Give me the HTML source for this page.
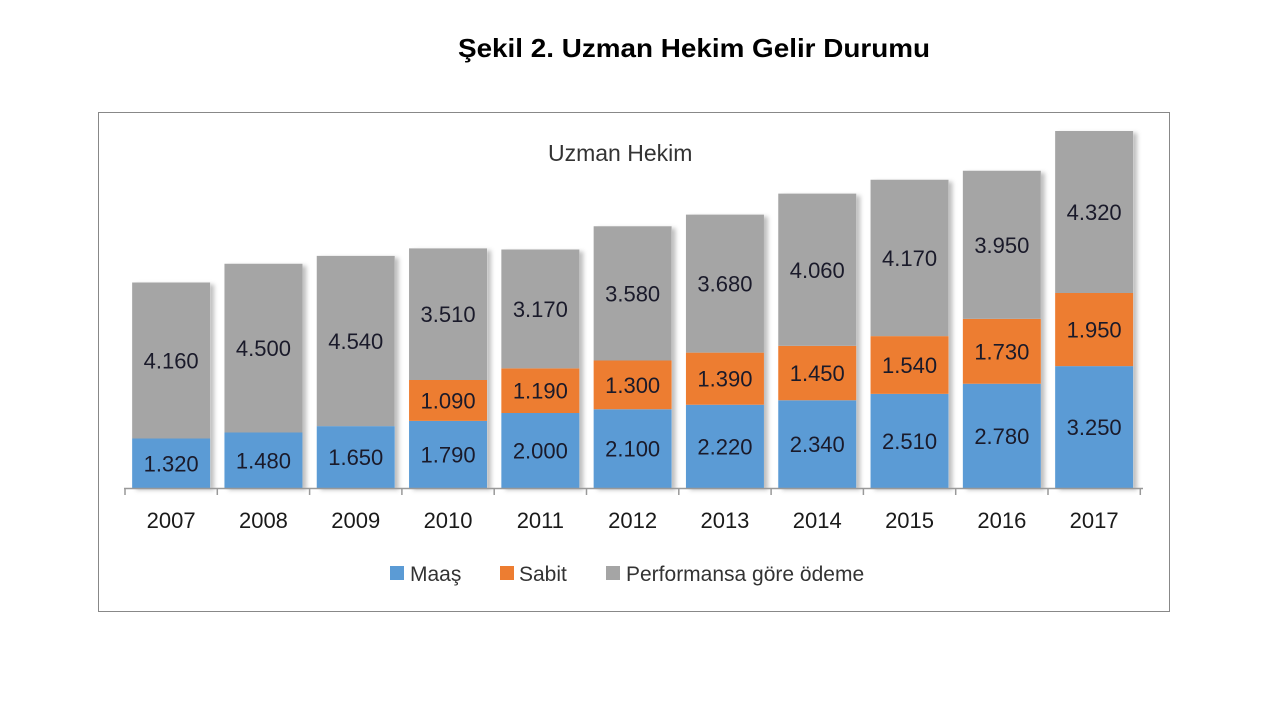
<!DOCTYPE html>
<html><head><meta charset="utf-8"><style>
body{margin:0;background:#fff;width:1280px;height:720px;overflow:hidden}
svg{font-family:"Liberation Sans",sans-serif}
</style></head><body>
<svg width="1280" height="720" viewBox="0 0 1280 720">
<defs><filter id="sh" x="-10%" y="-10%" width="130%" height="120%"><feDropShadow dx="4" dy="2" stdDeviation="2" flood-color="#000" flood-opacity="0.25"/></filter></defs>
<text x="458" y="57" font-size="26" font-weight="bold" fill="#000" textLength="472" lengthAdjust="spacingAndGlyphs">Şekil 2. Uzman Hekim Gelir Durumu</text>
<rect x="98.5" y="112.5" width="1071" height="499" fill="#fff" stroke="#888" stroke-width="1"/>
<text x="548" y="161" font-size="23" fill="#333">Uzman Hekim</text>
<g id="bars"></g>
<line x1="124" y1="488.5" x2="1143" y2="488.5" stroke="#999" stroke-width="1.5"/>
<g id="ticks" stroke="#999" stroke-width="1.5"></g>
<g font-size="22" fill="#1a1a1a" text-anchor="middle" id="years"></g>
<rect x="390" y="566" width="14" height="14" fill="#5B9BD5"/>
<text x="410" y="581" font-size="21" fill="#333">Maaş</text>
<rect x="500" y="566" width="14" height="14" fill="#ED7D31"/>
<text x="519" y="581" font-size="21" fill="#333">Sabit</text>
<rect x="606" y="566" width="14" height="14" fill="#A5A5A5"/>
<text x="626" y="581" font-size="21" fill="#333">Performansa göre ödeme</text>
</svg>
<script>
var d=[[2007,1320,0,4160],[2008,1480,0,4500],[2009,1650,0,4540],[2010,1790,1090,3510],[2011,2000,1190,3170],[2012,2100,1300,3580],[2013,2220,1390,3680],[2014,2340,1450,4060],[2015,2510,1540,4170],[2016,2780,1730,3950],[2017,3250,1950,4320]];
var ns="http://www.w3.org/2000/svg",k=0.0375,base=488,sp=92.3,x0=125,w=78;
var g=document.getElementById('bars'),t=document.getElementById('ticks'),yr=document.getElementById('years');
function el(n,a,p){var e=document.createElementNS(ns,n);for(var i in a)e.setAttribute(i,a[i]);p.appendChild(e);return e}
function f(v){return (v/1000).toFixed(3)}
var cols=['#5B9BD5','#ED7D31','#A5A5A5'];
d.forEach(function(r,i){
 var cx=x0+sp*(i+0.5),y=base;
 var tot=(r[1]+r[2]+r[3])*k;
 el('rect',{x:cx-w/2,y:base-tot,width:w,height:tot,fill:'#fff',filter:'url(#sh)'},g);
 for(var j=0;j<3;j++){var v=r[j+1];if(!v)continue;var h=v*k;y-=h;
  el('rect',{x:cx-w/2,y:y,width:w,height:h,fill:cols[j]},g);
  var tx=el('text',{x:cx,y:y+h/2+8,'font-size':22,fill:'#1a1a2a','text-anchor':'middle'},g);tx.textContent=f(v);}
 var yt=el('text',{x:cx,y:528},yr);yt.textContent=r[0];
});
for(var i=0;i<=11;i++){var x=x0+sp*i;el('line',{x1:x,y1:488,x2:x,y2:495},t);}
</script>
</body></html>
